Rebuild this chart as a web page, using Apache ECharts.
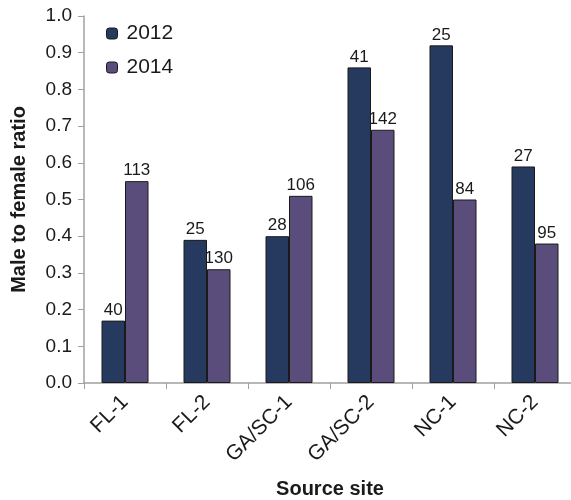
<!DOCTYPE html>
<html>
<head>
<meta charset="utf-8">
<script src="https://cdn.jsdelivr.net/npm/echarts@6/dist/echarts.min.js"></script>
<style>
  html, body { margin: 0; padding: 0; background: #fff; }
  #chart { width: 571px; height: 500px; }
</style>
</head>
<body>
<div id="chart"></div>
<script>
// Source sites and the male-to-female ratio per sampling year
const sites = ['FL-1', 'FL-2', 'GA/SC-1', 'GA/SC-2', 'NC-1', 'NC-2'];
const years = ['2012', '2014'];
const ratio2012 = [0.17, 0.39, 0.40, 0.86, 0.92, 0.59];
const ratio2014 = [0.55, 0.31, 0.51, 0.69, 0.50, 0.38];
// Sample sizes shown above each bar
const n2012 = [40, 25, 28, 41, 25, 27];
const n2014 = [113, 130, 106, 142, 84, 95];
const yTicks = ['0.0', '0.1', '0.2', '0.3', '0.4', '0.5', '0.6', '0.7', '0.8', '0.9', '1.0'];

const font = 'Liberation Sans, Arial, sans-serif';
const axisGray = '#a0a0a0';
const ink = '#1a1a1a';

function barSeries(name, values, counts, color) {
  return {
    name: name,
    type: 'bar',
    data: values,
    barWidth: 23.5,
    barGap: '0%',
    itemStyle: { color: color, borderColor: ink, borderWidth: 1 },
    label: {
      show: true,
      position: 'top',
      distance: 2,
      fontFamily: font,
      fontSize: 17,
      color: ink,
      formatter: p => String(counts[p.dataIndex])
    }
  };
}

const chart = echarts.init(document.getElementById('chart'), null, { renderer: 'canvas' });
chart.setOption({
  animation: false,
  backgroundColor: '#ffffff',
  grid: { left: 84, right: -5, top: 16, bottom: 117, containLabel: false, outerBoundsMode: 'none' },
  legend: {
    orient: 'vertical',
    left: 106,
    top: 23,
    padding: 0,
    itemWidth: 11,
    itemHeight: 11,
    itemGap: 13,
    data: years,
    textStyle: { fontFamily: font, fontSize: 21, color: ink, padding: [0, 0, 0, 4] },
    itemStyle: { borderColor: ink, borderWidth: 1 }
  },
  xAxis: {
    type: 'category',
    data: sites,
    name: 'Source site',
    nameLocation: 'middle',
    nameGap: 96,
    nameTextStyle: { fontFamily: font, fontSize: 20, fontWeight: 'bold', color: ink },
    axisLine: { lineStyle: { color: axisGray, width: 1.5 } },
    axisTick: { show: true, length: 6, alignWithLabel: false, lineStyle: { color: axisGray } },
    axisLabel: {
      rotate: 45,
      margin: 16,
      fontFamily: font,
      fontSize: 21,
      color: ink
    }
  },
  yAxis: {
    type: 'value',
    min: 0,
    max: 1,
    interval: 0.1,
    name: 'Male to female ratio',
    nameLocation: 'middle',
    nameGap: 55,
    nameRotate: 90,
    nameTextStyle: { fontFamily: font, fontSize: 20, fontWeight: 'bold', color: ink },
    axisLine: { show: true, lineStyle: { color: axisGray, width: 1.5 } },
    axisTick: { show: true, length: 6, lineStyle: { color: axisGray } },
    splitLine: { show: false },
    axisLabel: {
      margin: 12,
      fontFamily: font,
      fontSize: 19,
      color: ink,
      formatter: (v) => yTicks[Math.round(v * 10)]
    }
  },
  series: [
    barSeries(years[0], ratio2012, n2012, '#263a5f'),
    barSeries(years[1], ratio2014, n2014, '#5b4d7b')
  ]
});
</script>
</body>
</html>
